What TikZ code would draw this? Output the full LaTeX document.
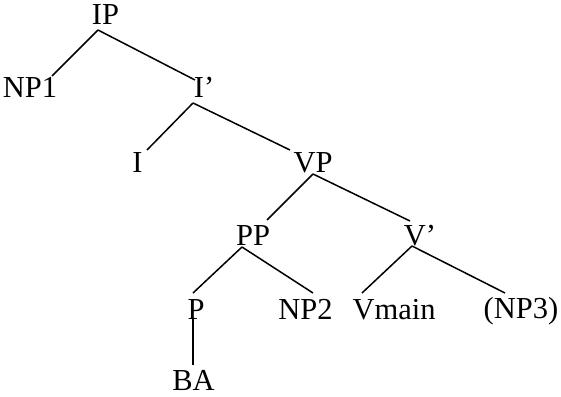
\documentclass[tikz,border=0pt]{standalone}
\usepackage{fontspec}
\setmainfont{Liberation Serif}
\usetikzlibrary{calc}
\begin{document}
\begin{tikzpicture}[x=1pt,y=-1pt,
  lbl/.style={inner sep=0pt,anchor=base,font=\fontsize{30.5}{36}\selectfont},
  edge/.style={line width=1.5pt}]
\useasboundingbox (0,0) rectangle (561,396);
\node[lbl] (IP) at (105.5,25) {IP};
\node[lbl] (NP1) at (30,97) {NP1};
\node[lbl] (Ib) at (204,97) {I’};
\node[lbl] (I) at (137.5,172) {I};
\node[lbl] (VP) at (313,172) {VP};
\node[lbl] (PP) at (253,245) {PP};
\node[lbl] (Vb) at (420,245) {V’};
\node[lbl] (P) at (196,319) {P};
\node[lbl] (NP2) at (305.5,319) {NP2};
\node[lbl] (Vmain) at (394,319) {Vmain};
\node[lbl] (NP3) at (521,318) {(NP3)};
\node[lbl] (BA) at (193.5,390) {BA};
\draw[edge] ($(IP.base)+(-7.5,5)$) -- ($(NP1.base)+(22,-21)$);
\draw[edge] ($(IP.base)+(-7.5,5)$) -- ($(Ib.base)+(-9,-17)$);
\draw[edge] ($(Ib.base)+(-11,6)$) -- ($(I.base)+(9.5,-22)$);
\draw[edge] ($(Ib.base)+(-11,6)$) -- ($(VP.base)+(-23,-22)$);
\draw[edge] ($(VP.base)+(0,2)$) -- ($(PP.base)+(14,-25)$);
\draw[edge] ($(VP.base)+(0,2)$) -- ($(Vb.base)+(-10,-24)$);
\draw[edge] ($(PP.base)+(-11,2)$) -- ($(P.base)+(-3,-26)$);
\draw[edge] ($(PP.base)+(-11,2)$) -- ($(NP2.base)+(7.5,-26)$);
\draw[edge] ($(Vb.base)+(-8,1)$) -- ($(Vmain.base)+(-32,-26)$);
\draw[edge] ($(Vb.base)+(-8,1)$) -- ($(NP3.base)+(-16,-25)$);
\draw[edge] ($(P.base)+(-3,0)$) -- ($(BA.base)+(-0.5,-25)$);
\end{tikzpicture}
\end{document}
